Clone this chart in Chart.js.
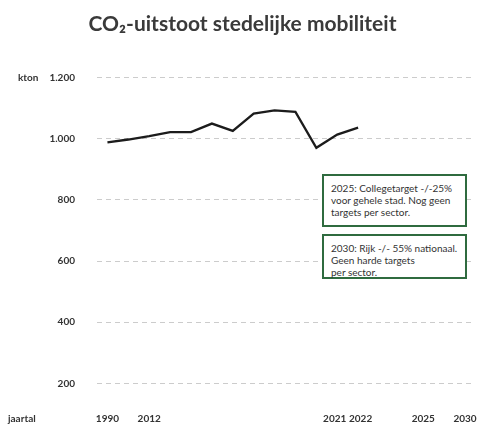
<!DOCTYPE html>
<html>
<head>
<meta charset="utf-8">
<script src="https://cdn.jsdelivr.net/npm/chart.js@4.4.0/dist/chart.umd.min.js"></script>
<style>
  html, body { margin: 0; padding: 0; background: #fff; }
  #wrap { position: relative; width: 479px; height: 432px; }
  canvas { display: block; }
  .note {
    position: absolute; box-sizing: border-box;
    border: 2px solid #2f6b3f; background: #fff;
    font-family: Lato, "Open Sans", sans-serif; font-size: 10px; line-height: 12px;
    color: #333; padding: 6px 4px 0 7px; white-space: nowrap;
  }
</style>
</head>
<body>
<div id="wrap">
  <canvas id="c" width="479" height="432" style="width:479px;height:432px"></canvas>
  <div class="note" id="n1" style="left:322px; top:174px; width:145px; height:53px;"></div>
  <div class="note" id="n2" style="left:322px; top:234px; width:145px; height:45px;"></div>
</div>
<script>
// ---- data ----
const categories = ['1990','2011','2012','2013','2014','2015','2016','2017','2018','2019','2020','2021','2022','2023','2024','2025',' ','2030'];
const shownTicks = ['1990','2012','2021','2022','2025','2030'];
const emissions = [988, 997, 1008, 1021, 1021, 1049, 1025, 1082, 1092, 1087, 970, 1013, 1036, null, null, null, null, null];
const yTicks = [200, 400, 600, 800, 1000, 1200];
const titleText = 'CO\u2082-uitstoot stedelijke mobiliteit';
const yUnit = 'kton';
const xUnit = 'jaartal';
const note1 = ['2025: Collegetarget -/-25%', 'voor gehele stad. Nog geen', 'targets per sector.'];
const note2 = ['2030: Rijk -/- 55% nationaal.', 'Geen harde targets', 'per sector.'];

document.getElementById('n1').innerHTML = note1.join('<br>');
document.getElementById('n2').innerHTML = note2.join('<br>');

const FONT = 'Lato, "Open Sans", sans-serif';
const fmt = v => v >= 1000 ? Math.floor(v/1000) + '.' + String(v % 1000).padStart(3, '0') : String(v);
// small visual nudges so neighbouring labels don't collide (label text unchanged)
const EN = '\u2002';
const tickText = l => l === '2021' ? l + EN : (l === '2022' || l === '2025' || l === '2030') ? EN + l : l;

const unitLabels = {
  id: 'unitLabels',
  afterDraw(chart) {
    const ctx = chart.ctx;
    const y = chart.scales.y;
    const x = chart.scales.x;
    ctx.save();
    ctx.font = 'bold 10px ' + FONT;
    ctx.fillStyle = '#333';
    ctx.textAlign = 'left';
    ctx.textBaseline = 'middle';
    ctx.fillText(yUnit, 18, y.getPixelForValue(1200));
    ctx.fillText(xUnit, 8, x.top + 2 + 6);
    ctx.restore();
  }
};

new Chart(document.getElementById('c'), {
  type: 'line',
  data: {
    labels: categories,
    datasets: [{
      data: emissions,
      borderColor: '#1c1c1c',
      borderWidth: 2.3,
      pointRadius: 0,
      pointHoverRadius: 0,
      tension: 0
    }]
  },
  options: {
    responsive: false,
    animation: false,
    layout: { autoPadding: false, padding: { left: 12, right: 6, top: 0, bottom: 0 } },
    plugins: {
      legend: { display: false },
      tooltip: { enabled: false },
      title: {
        display: true,
        text: titleText,
        color: '#3a3a3a',
        font: { family: FONT, size: 21, weight: 'bold' },
        padding: { top: 12, bottom: 31 }
      }
    },
    scales: {
      x: {
        type: 'category',
        offset: true,
        afterFit: s => { s.height = 21; },
        grid: { display: false, drawTicks: false },
        border: { display: false },
        ticks: {
          autoSkip: false,
          maxRotation: 0,
          padding: 2,
          color: '#333',
          font: { family: FONT, size: 10, weight: 'bold' },
          callback: function(v, i) {
            const l = categories[i];
            return shownTicks.includes(l) ? tickText(l) : '';
          }
        }
      },
      y: {
        min: 110,
        max: 1230,
        afterBuildTicks: s => { s.ticks = yTicks.map(v => ({ value: v })); },
        afterFit: s => { s.width = 85; },
        grid: { color: '#cccccc', lineWidth: 1, drawTicks: true, tickLength: 22, tickColor: 'rgba(0,0,0,0)' },
        border: { display: false, dash: [5, 4] },
        ticks: {
          padding: 0,
          color: '#333',
          font: { family: FONT, size: 10, weight: 'bold' },
          callback: v => fmt(v)
        }
      }
    }
  },
  plugins: [unitLabels]
});
</script>
</body>
</html>
